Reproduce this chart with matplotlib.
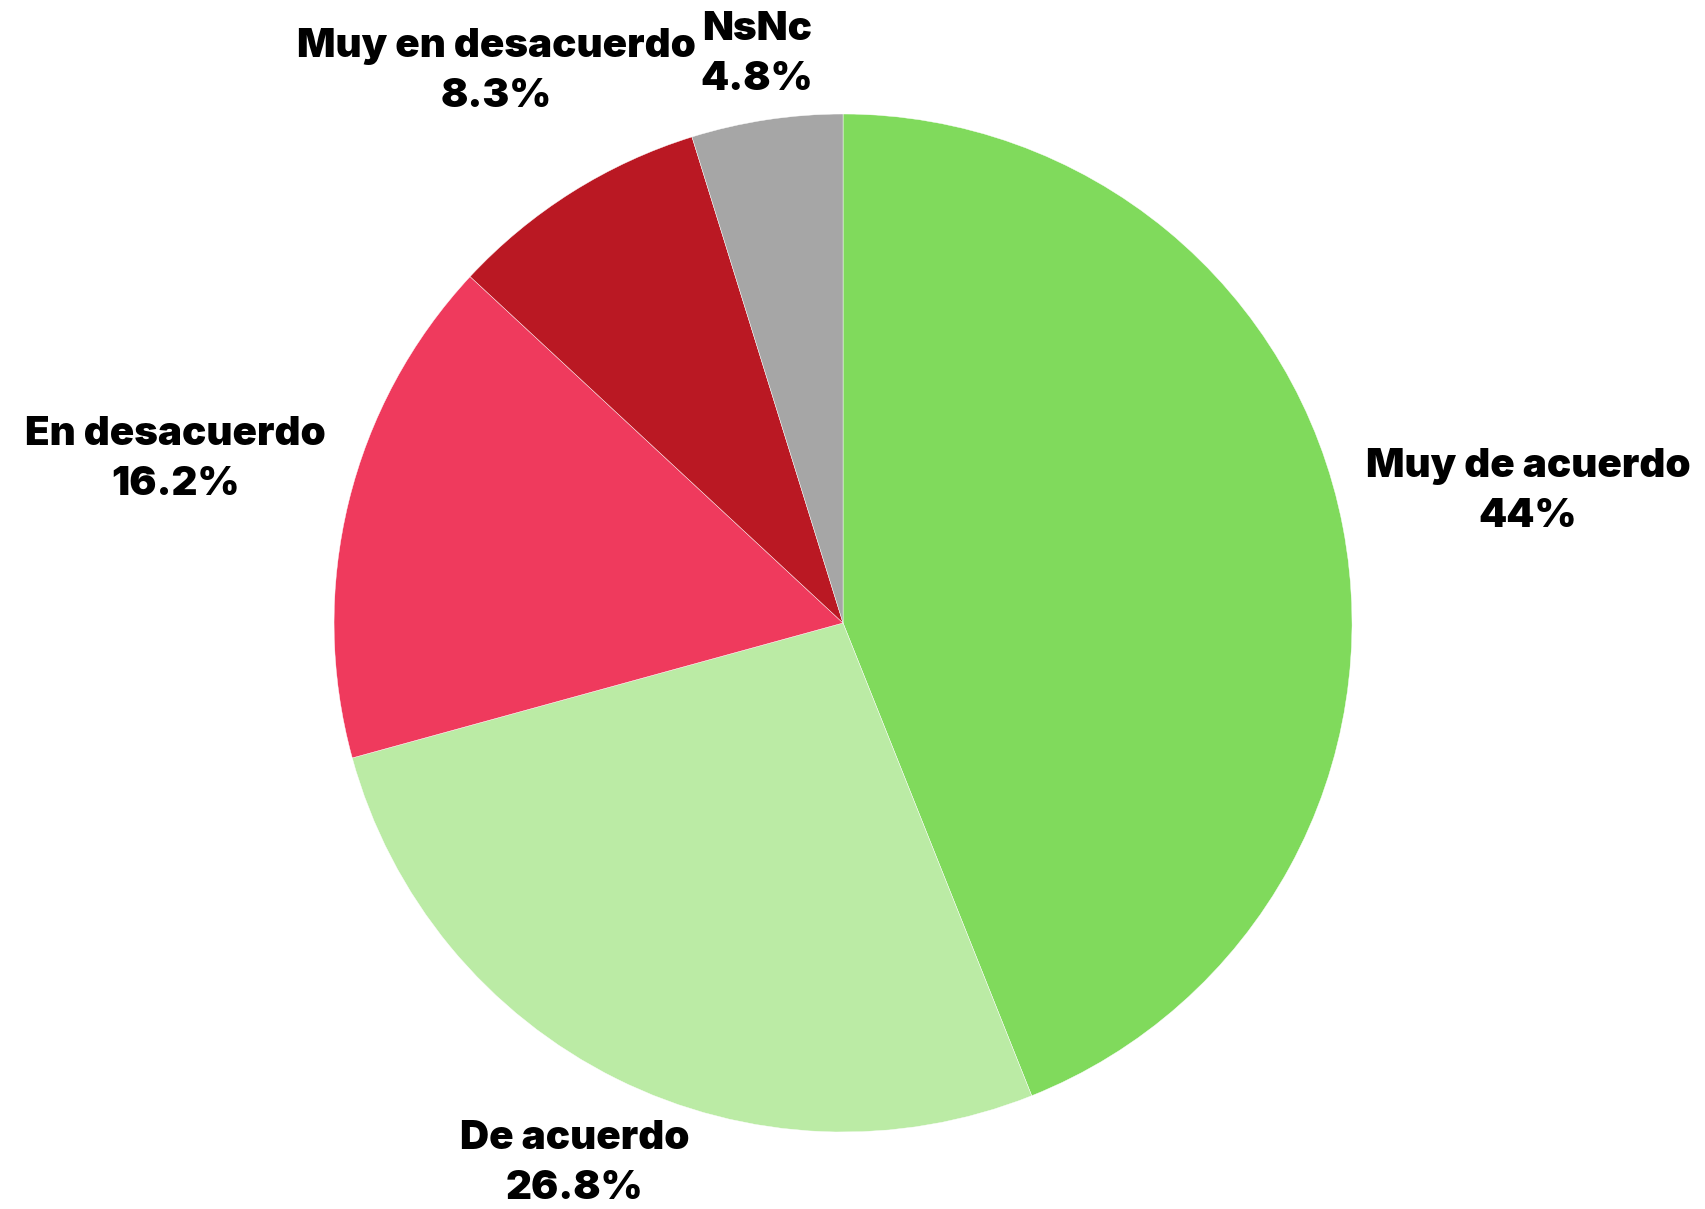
import numpy as np
import matplotlib
matplotlib.use('Agg')
import matplotlib.pyplot as plt

# Data
labels = ['Muy de acuerdo', 'De acuerdo', 'En desacuerdo', 'Muy en desacuerdo', 'NsNc']
values = [44, 26.8, 16.2, 8.3, 4.8]
pct_text = ['44%', '26.8%', '16.2%', '8.3%', '4.8%']
colors = ['#80DA5C', '#BBEBA5', '#EF3A5D', '#BA1823', '#A6A6A6']
label_dist = [1.37, 1.185, 1.35, 1.28, 1.13]

fig = plt.figure(figsize=(17.05, 12.09), dpi=100)
ax = fig.add_axes([0.1959, 0.0637, 0.5971, 0.8420])

wedges, _ = ax.pie(values, colors=colors, startangle=90, counterclock=False,
                   wedgeprops=dict(edgecolor='white', linewidth=0.3))

# Labels outside the slices
total = sum(values)
start = 90
for i, v in enumerate(values):
    mid = np.deg2rad(start - v / total * 360 / 2)
    start -= v / total * 360
    d = label_dist[i]
    ax.text(d * np.cos(mid), d * np.sin(mid), labels[i] + '\n' + pct_text[i],
            ha='center', va='center', fontsize=29, fontweight='black',
            family='Inter', linespacing=1.45, color='black')

ax.set_xlim(-1, 1)
ax.set_ylim(-1, 1)
ax.set_aspect('equal')
ax.axis('off')

plt.savefig('out.png', dpi=100)
